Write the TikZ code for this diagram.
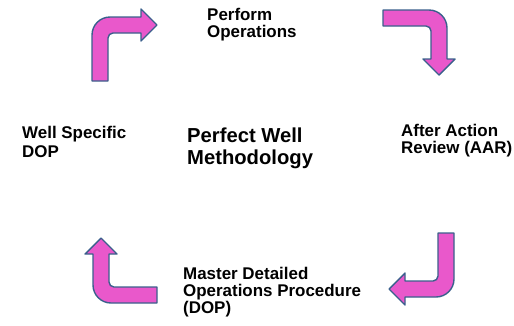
\documentclass[tikz,border=0pt]{standalone}
\usepackage{fontspec}
\setmainfont{Liberation Sans}
\usepackage{tikz}
\usetikzlibrary{positioning}

\definecolor{arrow_pink}{RGB}{233,88,203}
\definecolor{arrow_edge}{RGB}{58,96,140}

\tikzset{
  arrow_shape/.style={draw = arrow_edge, fill = arrow_pink, line width = 1.4bp, line join = round},
  step_label/.style={draw = none, inner sep = 0, anchor = base west, align = left, font = \bfseries\fontsize{17}{17}\selectfont},
  title_label/.style={draw = none, inner sep = 0, anchor = base west, align = left, font = \bfseries\fontsize{20.3}{22}\selectfont},
  pics/bent_arrow/.style={code={
    \draw[arrow_shape] (0,0) -- (0,46) arc[start angle=180, end angle=90, radius=18]
      -- (49,64) -- (49,72) -- (65,56) -- (49,40) -- (49,48) -- (21,48)
      arc[start angle=90, end angle=180, radius=5] -- (16,0) -- cycle;
  }}
}

\begin{document}
\begin{tikzpicture}[x = 1bp, y = 1bp]

\useasboundingbox (0,0) rectangle (514,-325);

%%% arrows round the cycle
\pic at (92,-81) {bent_arrow};
\pic[rotate = -90] at (383,-10) {bent_arrow};
\pic[rotate = 180] at (454,-233) {bent_arrow};
\pic[rotate = 90] at (157,-303) {bent_arrow};

%%% step labels (anchored on the last line)
\node[step_label] (perform_ops) at (207,-37.5) {Perform\\Operations};
\node[step_label] (after_action) at (401,-153.5) {After Action\\Review (AAR)};
\node[step_label] (master_dop) at (183,-313) {Master Detailed\\Operations Procedure\\(DOP)};
\node[step_label, font = \bfseries\fontsize{17}{19}\selectfont] (well_dop) at (22,-157) {Well Specific\\DOP};

%%% centre
\node[title_label] (title) at (187,-164) {Perfect Well\\Methodology};

\end{tikzpicture}
\end{document}
